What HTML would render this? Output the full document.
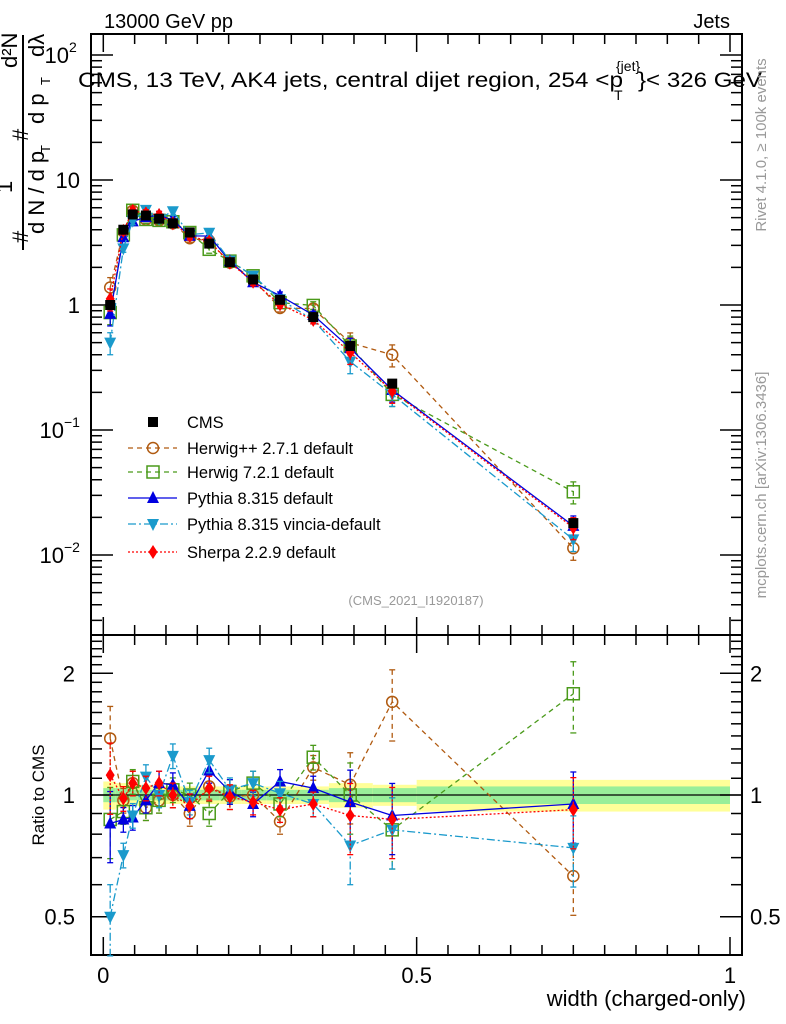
<!DOCTYPE html>
<html><head><meta charset="utf-8">
<style>
html,body{margin:0;padding:0;background:#fff;}
svg{display:block;font-family:"Liberation Sans",sans-serif;}
</style></head>
<body>
<svg id="c" width="786" height="1024" viewBox="0 0 786 1024">
</svg>
<script>
const xs = [0.011,0.032,0.047,0.068,0.089,0.111,0.138,0.169,0.202,0.239,0.282,0.335,0.394,0.461,0.75];
const cmsVals = [1.0,4.0,5.3,5.2,4.9,4.5,3.8,3.1,2.2,1.6,1.1,0.8,0.47,0.235,0.018];
const herwigppRatio = [1.38,0.97,1.07,0.93,0.97,1.0,0.9,1.05,0.99,1.0,0.86,1.17,1.06,1.70,0.63];
const herwig7Ratio = [0.87,0.91,1.08,0.93,0.97,1.03,1.0,0.9,1.02,1.07,0.95,1.24,1.0,0.82,1.78];
const pythiaRatio = [0.85,0.87,0.88,0.97,1.07,1.06,0.94,1.15,1.02,0.95,1.08,1.04,0.96,0.89,0.95];
const vinciaRatio = [0.5,0.71,0.89,1.11,1.0,1.25,0.96,1.22,1.03,1.07,1.01,0.95,0.75,0.82,0.74];
const sherpaRatio = [1.12,0.98,1.07,1.04,1.07,1.0,0.94,1.04,0.99,0.96,0.92,0.95,0.89,0.87,0.92];
const binEdges = [0,0.02,0.04,0.055,0.08,0.1,0.12,0.155,0.185,0.22,0.26,0.305,0.36,0.43,0.5,1.0];
const bandGreen = [0.04,0.04,0.03,0.03,0.03,0.03,0.03,0.03,0.03,0.03,0.03,0.03,0.04,0.04,0.05];
const bandYellow = [0.08,0.07,0.06,0.06,0.05,0.05,0.05,0.05,0.05,0.05,0.05,0.05,0.07,0.06,0.09];
const xTicks = [0,0.5,1];
const xTickLabels = ["0","0.5","1"];

const svg = document.getElementById('c');
const NS = 'http://www.w3.org/2000/svg';
const L=91,R=742,T=34,M=635,B=955;
const X = v => 103.3 + v*626.7;
const Ym = v => 305 - Math.log10(v)*125;
const Yr = v => 795 - Math.log10(v)*404.3;
function mk(tag, attrs, parent){const e=document.createElementNS(NS,tag);for(const k in attrs)e.setAttribute(k,attrs[k]);(parent||svg).appendChild(e);return e;}
function txt(s,x,y,size,extra){const t=mk('text',Object.assign({x:x,y:y,'font-size':size},extra||{}));t.textContent=s;return t;}

// band
xs.forEach((x,i)=>{
  const y1=mk('rect',{x:X(binEdges[i]),width:X(binEdges[i+1])-X(binEdges[i]),y:Yr(1+bandYellow[i]),height:Yr(1-bandYellow[i])-Yr(1+bandYellow[i]),fill:'#ffff99'});
  
  
  const g1=mk('rect',{x:X(binEdges[i]),width:X(binEdges[i+1])-X(binEdges[i]),y:Yr(1+bandGreen[i]),height:Yr(1-bandGreen[i])-Yr(1+bandGreen[i]),fill:'#99ee99'});
  
  
});
mk('line',{x1:L,x2:R,y1:Yr(1),y2:Yr(1),stroke:'#000','stroke-width':1.2});

// frames
const f1=mk('rect',{x:L,y:T,width:R-L,height:M-T,fill:'none',stroke:'#000','stroke-width':2});

const f2=mk('rect',{x:L,y:M,width:R-L,height:B-M,fill:'none',stroke:'#000','stroke-width':2});


// x ticks
for(let v=0;v<=1.0001;v+=0.05){
  const maj=Math.abs(v*2-Math.round(v*2))<1e-6 ;
  const len=maj?18:10;
  [T,M].forEach(y0=>mk('line',{x1:X(v),x2:X(v),y1:y0,y2:y0+len,stroke:'#000','stroke-width':1.5}));
  [M,B].forEach(y0=>mk('line',{x1:X(v),x2:X(v),y1:y0,y2:y0-len,stroke:'#000','stroke-width':1.5}));
}
xTicks.forEach((v,i)=>{const t=txt(xTickLabels[i],X(v),983,22,{'text-anchor':'middle'});});

// main y ticks
for(let d=-3;d<=2;d++){for(let k=1;k<=9;k++){const v=k*Math.pow(10,d);const y=Ym(v);if(y<T||y>M)continue;const len=k==1?22:11;
 mk('line',{x1:L,x2:L+len,y1:y,y2:y,stroke:'#000','stroke-width':1.5});mk('line',{x1:R,x2:R-len,y1:y,y2:y,stroke:'#000','stroke-width':1.5});}}
const yl=[[Ym(1),'1'],[Ym(10),'10']];
yl.forEach(a=>{const t=txt(a[1],80,a[0]+8,22,{'text-anchor':'end'});});
[[Ym(100),'2'],[Ym(0.1),'−1'],[Ym(0.01),'−2']].forEach(a=>{const t=txt('10',a[1]=='2'?69:64,a[0]+8,22,{'text-anchor':'end'});
 const s=txt(a[1],a[1]=='2'?69:64,a[0]-3,14,{});});

// ratio y ticks
for(let v=0.4;v<=2.45;v+=0.1){const y=Yr(v);if(y<M||y>B)continue;const maj=Math.abs(v-0.5)<1e-6||Math.abs(v-1)<1e-6||Math.abs(v-2)<1e-6;const len=maj?22:11;
 mk('line',{x1:L,x2:L+len,y1:y,y2:y,stroke:'#000','stroke-width':1.5});mk('line',{x1:R,x2:R-len,y1:y,y2:y,stroke:'#000','stroke-width':1.5});}
[[2,'2'],[1,'1'],[0.5,'0.5']].forEach(a=>{const t=txt(a[1],75,Yr(a[0])+8,22,{'text-anchor':'end'});
 const t2=txt(a[1],750,Yr(a[0])+8,22,{});});

// series
const series=[
 {name:'herwigpp',r:herwigppRatio,color:'#b05a10',dash:'5,4',marker:'circle'},
 {name:'herwig7',r:herwig7Ratio,color:'#4a9a1a',dash:'5,4',marker:'square'},
 {name:'pythia',r:pythiaRatio,color:'#0000e0',dash:'',marker:'up'},
 {name:'vincia',r:vinciaRatio,color:'#1a9acc',dash:'8,3,2,3',marker:'down'},
 {name:'sherpa',r:sherpaRatio,color:'#ff0000',dash:'2,2',marker:'diamond'}
];
function marker(type,x,y,c,name){
 let e;
 if(type=='circle')e=mk('circle',{cx:x,cy:y,r:5.5,fill:'#fff','fill-opacity':0,stroke:c,'stroke-width':1.5});
 else if(type=='square')e=mk('rect',{x:x-6,y:y-6,width:12,height:12,fill:'none',stroke:c,'stroke-width':1.5});
 else if(type=='up')e=mk('polygon',{points:`${x},${y-7} ${x-6},${y+5} ${x+6},${y+5}`,fill:c});
 else if(type=='down')e=mk('polygon',{points:`${x},${y+7} ${x-6},${y-5} ${x+6},${y-5}`,fill:c});
 else if(type=='diamond')e=mk('polygon',{points:`${x},${y-7} ${x-4.5},${y} ${x},${y+7} ${x+4.5},${y}`,fill:c});
 else e=mk('rect',{x:x-5,y:y-5,width:10,height:10,fill:c});
 
 
 return e;
}
series.forEach(s=>{
 const ptsM=xs.map((x,i)=>X(x)+','+Ym(cmsVals[i]*s.r[i])).join(' ');
 const ptsR=xs.map((x,i)=>X(x)+','+Yr(s.r[i])).join(' ');
 const l1=mk('polyline',{points:ptsM,fill:'none',stroke:s.color,'stroke-width':1.3,'stroke-dasharray':s.dash});
 
 const l2=mk('polyline',{points:ptsR,fill:'none',stroke:s.color,'stroke-width':1.3,'stroke-dasharray':s.dash});
 
 xs.forEach((x,i)=>{
   const e=(i==0||i>=12)?0.2:0.07;
   const v=s.r[i];
   [[Ym(cmsVals[i]*v*(1+e)),Ym(cmsVals[i]*v*(1-e))],[Yr(v*(1+e)),Yr(v*(1-e))]].forEach(p=>{
     mk('line',{x1:X(x),x2:X(x),y1:p[0],y2:p[1],stroke:s.color,'stroke-width':1.3,'stroke-dasharray':s.dash});
     mk('line',{x1:X(x)-3,x2:X(x)+3,y1:p[0],y2:p[0],stroke:s.color,'stroke-width':1.3});
     mk('line',{x1:X(x)-3,x2:X(x)+3,y1:p[1],y2:p[1],stroke:s.color,'stroke-width':1.3});
   });
   marker(s.marker,X(x),Ym(cmsVals[i]*v),s.color,s.name+'-point');
   marker(s.marker,X(x),Yr(v),s.color,s.name+'-ratio-point');
 });
});
xs.forEach((x,i)=>marker('sq',X(x),Ym(cmsVals[i]),'#000','cms-point'));

// legend
const leg=[['CMS','#000','','sq'],['Herwig++ 2.7.1 default','#b05a10','5,4','circle'],['Herwig 7.2.1 default','#4a9a1a','5,4','square'],['Pythia 8.315 default','#0000e0','','up'],['Pythia 8.315 vincia-default','#1a9acc','8,3,2,3','down'],['Sherpa 2.2.9 default','#ff0000','2,2','diamond']];
const legY=[422,448,472,498,524,552];
leg.forEach((l,i)=>{
 const y=legY[i];
 if(i>0){const ln=mk('line',{x1:128,x2:177,y1:y,y2:y,stroke:l[1],'stroke-width':1.3,'stroke-dasharray':l[2]});}
 marker(l[3],153,y,l[1],'legend-marker');
 const t=txt(l[0],187,y+6,16.5,{});
});

// texts
let t;
t=txt('13000 GeV pp',104,28,20,{});
t=txt('Jets',730,28,20,{'text-anchor':'end'});
t=txt('CMS, 13 TeV, AK4 jets, central dijet region, 254 <p',78,87,21,{textLength:545,lengthAdjust:'spacingAndGlyphs'});
t=txt('{jet}',616,71,14,{});
t=txt('T',614,100,14,{});
t=txt('}< 326 GeV',638,87,21,{textLength:124,lengthAdjust:'spacingAndGlyphs'});
t=txt('(CMS_2021_I1920187)',416,605,13,{'text-anchor':'middle',fill:'#999'});
t=txt('width (charged-only)',746,1006,22,{'text-anchor':'end'});
t=txt('Ratio to CMS',0,0,17,{'text-anchor':'middle',transform:'translate(44,795) rotate(-90)'});
t=txt('Rivet 4.1.0, ≥ 100k events',0,0,15,{'text-anchor':'middle',fill:'#999',transform:'translate(766,145) rotate(-90)'});
t=txt('mcplots.cern.ch [arXiv:1306.3436]',0,0,15,{'text-anchor':'middle',fill:'#999',transform:'translate(766,485) rotate(-90)'});
// y axis title (rotated pieces)
const parts=[
 ['#',28,243,22],
 ['1',12,193,22],
 ['d N / d p',44,234,22],
 ['T',50,153,13],
 ['#',28,141,22],
 ['d p',44,124,22],
 ['T',50,85,13],
 ['d²N',17,68,22],
 ['dλ',44,57,22]
];
parts.forEach(p=>{
 const e=txt(p[0],0,0,p[3],{transform:`translate(${p[1]},${p[2]}) rotate(-90)`});
 
 
});
const fl=mk('line',{x1:23,x2:23,y1:250,y2:35,stroke:'#000','stroke-width':2});
</script>
</body></html>
